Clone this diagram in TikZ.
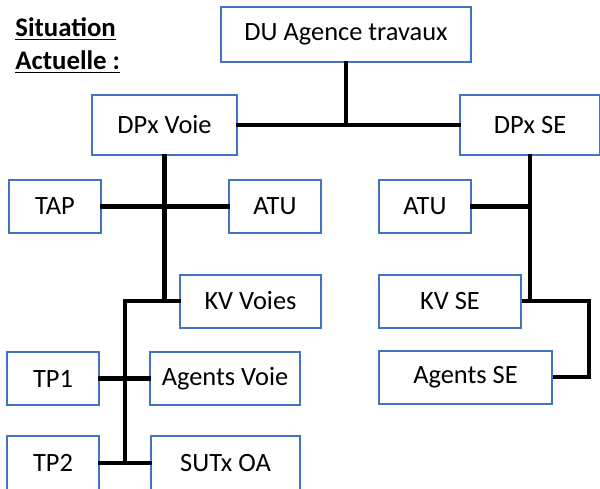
\documentclass[tikz,border=0pt]{standalone}
\usepackage{fontspec}
\setmainfont{Carlito}
\usepackage{tikz}
\definecolor{orgblue}{HTML}{4472C4}
\tikzset{
  orgbox/.style = {draw=orgblue, line width=1pt, fill=white, inner sep=0pt, text centered, font=\fontsize{13.2}{15}\selectfont},
  link/.style = {line width=2.3pt, black, line cap=rect}
}

\begin{document}
\begin{tikzpicture}[x=0.5pt, y=-0.5pt]
\clip (0,0) rectangle (600,488);
\useasboundingbox (0,0) rectangle (600,488);

% title
\node [align=left, anchor=north west, inner sep=0pt, font=\fontsize{13.4}{16.5}\selectfont\bfseries] (title) at (15,17)
  {\underline{Situation}\\ \underline{Actuelle :}};

% boxes, top level
\node [orgbox, minimum width=125pt, minimum height=27.5pt] (du) at (346,34.5) {DU Agence travaux};
\node [orgbox, minimum width=72.5pt, minimum height=30pt] (dpxvoie) at (164.5,125) {DPx Voie};
\node [orgbox, minimum width=70pt, minimum height=30pt] (dpxse) at (530,125) {DPx SE};

% voie side
\node [orgbox, minimum width=46pt, minimum height=26.5pt] (tap) at (55,206.5) {TAP};
\node [orgbox, minimum width=46pt, minimum height=26.5pt] (atuvoie) at (275,206.5) {ATU};
\node [orgbox, minimum width=70.5pt, minimum height=26.5pt] (kvvoies) at (250.5,301) {KV Voies};
\node [orgbox, minimum width=46pt, minimum height=26.5pt] (tp1) at (53,378.5) {TP1};
\node [orgbox, minimum width=75pt, minimum height=26.5pt] (agentsvoie) at (225,378.5) {Agents Voie};
\node [orgbox, minimum width=46pt, minimum height=27pt] (tp2) at (53,463) {TP2};
\node [orgbox, minimum width=74.5pt, minimum height=27pt] (sutx) at (225.5,463) {SUTx OA};

% SE side
\node [orgbox, minimum width=46pt, minimum height=26.5pt] (atuse) at (425,206.5) {ATU};
\node [orgbox, minimum width=71pt, minimum height=26.5pt] (kvse) at (450,301) {KV SE};
\node [orgbox, minimum width=86.5pt, minimum height=26.5pt] (agentsse) at (465.5,377) {Agents SE};

% helper points
\coordinate (busvoie) at (125,0);
\coordinate (turnse) at (589,0);

% links
\draw [link] (dpxvoie.east) -- (dpxse.west);
\draw [link] (du.south) -- (du.south |- dpxvoie.east);
\draw [link] (tap.east) -- (atuvoie.west);
\draw [link] (dpxvoie.south) -- (dpxvoie.south |- kvvoies.west);
\draw [link, line join=miter] (kvvoies.west) -- (kvvoies.west -| busvoie) -- (busvoie |- sutx.west);
\draw [link] (tp1.east) -- (agentsvoie.west);
\draw [link] (tp2.east) -- (sutx.west);
\draw [link] (dpxse.south) -- (dpxse.south |- kvse.east);
\draw [link] (atuse.east) -- (atuse.east -| dpxse.south);
\draw [link, line cap=butt, line join=miter] (kvse.east) -- (kvse.east -| turnse) |- (agentsse.east);

\end{tikzpicture}
\end{document}
